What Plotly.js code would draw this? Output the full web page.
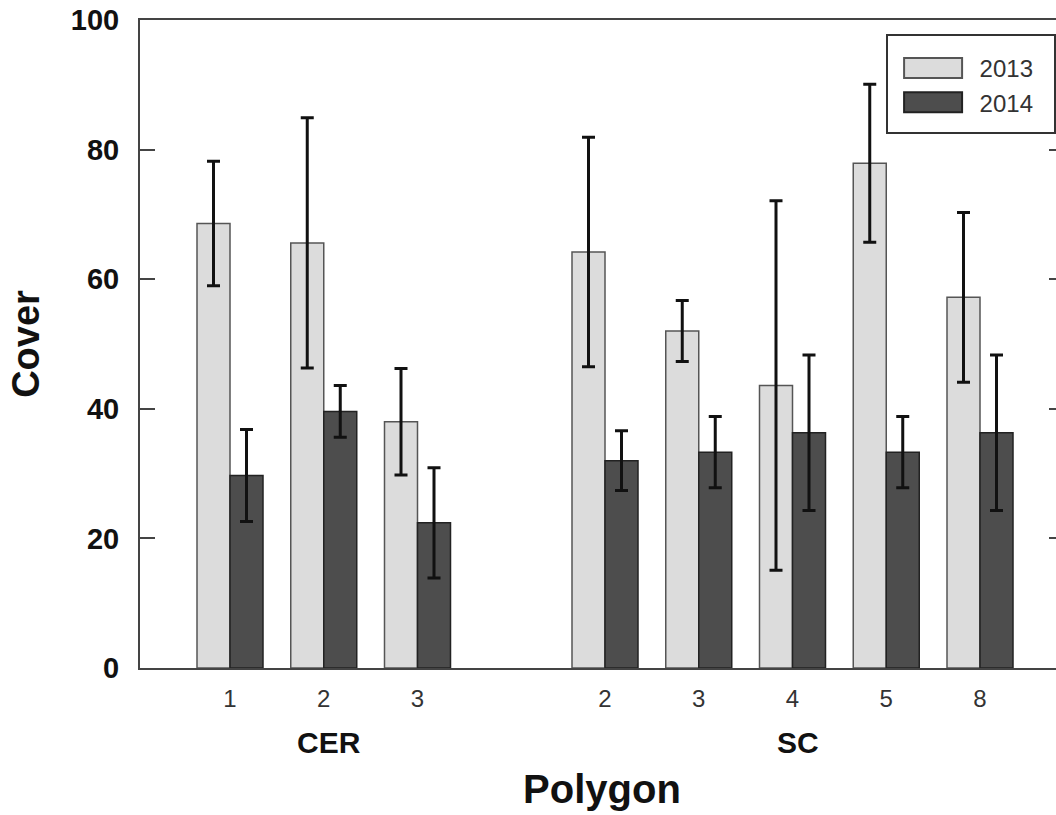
<!DOCTYPE html>
<html>
<head>
<meta charset="utf-8">
<script src="https://cdn.plot.ly/plotly-3.0.1.min.js"></script>
<style>
  html, body { margin: 0; padding: 0; background: #fff; overflow: hidden; }
  #chart { width: 1070px; height: 815px; }
</style>
</head>
<body>
<div id="chart"></div>
<script>
// ---- data ----
const polygons  = ['1', '2', '3', '2', '3', '4', '5', '8'];
const sites     = ['CER', 'CER', 'CER', 'SC', 'SC', 'SC', 'SC', 'SC'];
const siteNames = ['CER', 'SC'];
const cover2013 = [68.6, 65.6, 38.0, 64.2, 52.0, 43.6, 77.9, 57.2];
const err2013   = [9.6, 19.3, 8.2, 17.7, 4.7, 28.5, 12.2, 13.1];
const cover2014 = [29.7, 39.6, 22.4, 32.0, 33.3, 36.3, 33.3, 36.3];
const err2014   = [7.1, 4.0, 8.5, 4.6, 5.5, 12.0, 5.5, 12.0];
const years     = ['2013', '2014'];
const yTicks    = [0, 20, 40, 60, 80, 100];

// slot positions: one empty slot between the two sites
const xpos = polygons.map((p, i) => i + (sites[i] === 'SC' ? 1 : 0));
const siteCenter = siteNames.map(s => {
  const xs = xpos.filter((x, i) => sites[i] === s);
  return (Math.min(...xs) + Math.max(...xs)) / 2;
});

const FONT = 'Liberation Sans, Arial, sans-serif';

const traces = [
  {
    type: 'bar', name: years[0], x: xpos, y: cover2013,
    marker: { color: '#dcdcdc', line: { color: '#555555', width: 1.5 } },
    error_y: { type: 'data', array: err2013, visible: true, color: '#111111', thickness: 3, width: 6.5 }
  },
  {
    type: 'bar', name: years[1], x: xpos, y: cover2014,
    marker: { color: '#4d4d4d', line: { color: '#222222', width: 1.5 } },
    error_y: { type: 'data', array: err2014, visible: true, color: '#111111', thickness: 3, width: 6.5 }
  }
];

const layout = {
  width: 1070, height: 815,
  margin: { l: 140, r: 6, t: 20, b: 147 },
  paper_bgcolor: '#ffffff', plot_bgcolor: '#ffffff',
  font: { family: FONT, color: '#111111' },
  barmode: 'group', bargap: 0.296, bargroupgap: 0,
  showlegend: true,
  legend: {
    x: 0.808, y: 0.96, xanchor: 'left', yanchor: 'top',
    bgcolor: 'rgba(255,255,255,0)', borderwidth: 0,
    font: { family: FONT, size: 24, color: '#333333' },
    itemwidth: 83, tracegroupgap: 0
  },
  xaxis: {
    range: [-0.96, 8.896], fixedrange: true,
    tickmode: 'array', tickvals: xpos, ticktext: polygons,
    ticks: '', ticklabelstandoff: 8,
    tickfont: { family: FONT, size: 24, color: '#333333' },
    showline: true, linewidth: 2, linecolor: '#444444', mirror: true,
    showgrid: false, zeroline: false,
    title: { text: '<b>Polygon</b>', font: { family: FONT, size: 40, color: '#111111' }, standoff: 64 }
  },
  yaxis: {
    range: [0, 100], fixedrange: true,
    tickmode: 'array', tickvals: yTicks, ticktext: yTicks.map(v => '<b>' + v + '</b>'),
    ticks: 'inside', ticklen: 15, tickwidth: 2, tickcolor: '#444444',
    ticklabelstandoff: 13,
    tickfont: { family: FONT, size: 29, color: '#111111' },
    showline: true, linewidth: 2, linecolor: '#444444', mirror: 'ticks',
    showgrid: false, zeroline: false,
    title: { text: '<b>Cover</b>', font: { family: FONT, size: 38, color: '#111111' }, standoff: 20 }
  },
  annotations: siteNames.map((s, k) => ({
    text: '<b>' + s + '</b>', x: siteCenter[k], xref: 'x', y: -0.115, yref: 'paper',
    xanchor: 'center', yanchor: 'middle', showarrow: false, xshift: 5,
    font: { family: FONT, size: 30, color: '#111111' }
  })),
  shapes: [{
    type: 'rect', xref: 'paper', yref: 'paper',
    x0: (887 - 140) / 924, x1: (1055 - 140) / 924,
    y0: (668 - 133) / 648, y1: (668 - 35) / 648,
    line: { color: '#333333', width: 2 }, fillcolor: 'rgba(0,0,0,0)', layer: 'above'
  }]
};

Plotly.newPlot('chart', traces, layout, { displayModeBar: false, responsive: false, staticPlot: true })
  .then(() => {
    // widen the legend swatches to match the reference's rectangular keys
    document.querySelectorAll('#chart .legendpoints path').forEach(p => {
      p.setAttribute('d', 'M29,10H-29V-10H29Z');
      p.style.strokeWidth = '2px';
    });
  });
</script>
</body>
</html>
